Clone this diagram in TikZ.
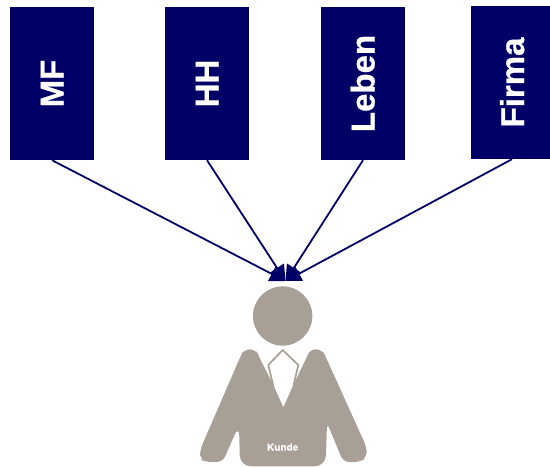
\documentclass[tikz,border=0pt]{standalone}
\usepackage{fontspec}
\setmainfont[BoldFeatures={FakeBold=0.7}]{Liberation Sans}
\usetikzlibrary{arrows.meta}
\definecolor{navyb}{HTML}{000066}
\definecolor{suit}{HTML}{A89F96}
\tikzset{
  catbox/.style={fill=navyb,text=white,inner sep=0pt,rotate=90,minimum width=153pt,minimum height=84pt,
    text height=23pt,text depth=0pt,font=\fontsize{33}{33}\selectfont\bfseries},
  link/.style={draw=navyb,line width=1.8pt,-{Triangle[length=15.5pt,width=16pt]},shorten >=0pt}
}
\begin{document}
\begin{tikzpicture}[x=1pt,y=-1pt]
\useasboundingbox (0,0) rectangle (550,467);
\node[catbox] (mf) at (52,83.5) {MF};
\node[catbox] (hh) at (207,83.5) {HH};
\node[catbox] (leben) at (363,83.5) {Leben};
\node[catbox,minimum height=79pt,text height=27pt] (firma) at (510.5,82.5) {Firma};
% person
\begin{scope}[shift={(180,250)},x=0.33333pt,y=-0.33333pt]
\fill[suit,rounded corners=6pt]
  (382,318) -- (388,298) -- (426,298) -- (436,318)
  -- (560,592) -- (560,622) -- (540,636) -- (490,636) -- (441,518) [rounded corners=11pt] -- (437,649) -- (180,649) -- (177,525)
  [rounded corners=6pt] -- (128,636) -- (74,636) -- (60,626) -- (60,600) -- (182,318) -- (192,298) -- (228,298) -- (236,318) [sharp corners] -- (280,405) -- (310,472) -- (340,405) -- cycle;
\fill[suit] (308,198) circle[radius=89];
\draw[suit,line width=1.7pt,line join=round] (280,408) -- (265,345) -- (308,300) -- (355,345) -- (340,408);
\node[text=white,inner sep=0pt,font=\fontsize{10}{10}\selectfont\bfseries] (kundetext) at (308,591) {Kunde};
\end{scope}
\coordinate (kunde) at (285.5,281);
\draw[link] (mf.west) -- (kunde);
\draw[link] (hh.west) -- (kunde);
\draw[link] (leben.west) -- (kunde);
\draw[link] ([xshift=1.5pt]firma.west) -- (kunde);
\end{tikzpicture}
\end{document}
